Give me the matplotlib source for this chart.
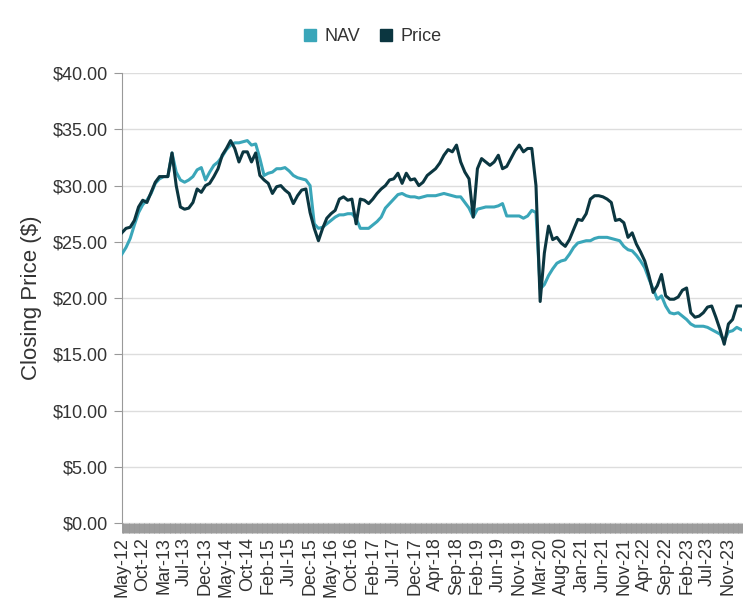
import numpy as np
import matplotlib
matplotlib.use("Agg")
import matplotlib.pyplot as plt
from matplotlib.lines import Line2D
from matplotlib.ticker import FixedLocator, MultipleLocator

plt.rcParams["font.family"] = ["Liberation Sans", "DejaVu Sans"]

tick_labels = ["May-12", "Oct-12", "Mar-13", "Jul-13", "Dec-13", "May-14", "Oct-14",
               "Feb-15", "Jul-15", "Dec-15", "May-16", "Oct-16", "Feb-17", "Jul-17",
               "Dec-17", "Apr-18", "Sep-18", "Feb-19", "Jun-19", "Nov-19", "Mar-20",
               "Aug-20", "Jan-21", "Jun-21", "Nov-21", "Apr-22", "Sep-22", "Feb-23",
               "Jul-23", "Nov-23"]

# roughly 4-weekly closing values
nav = [23.9, 24.5, 25.3, 26.5, 27.6, 28.3, 28.7, 29.3, 30.2, 30.6,
       30.8, 30.8, 32.9, 31.2, 30.5, 30.3, 30.5, 30.8, 31.4, 31.6,
       30.5, 31.2, 31.8, 32.1, 32.6, 33.2, 33.6, 33.8, 33.8, 33.9,
       34.0, 33.6, 33.7, 32.4, 30.9, 31.1, 31.2, 31.5, 31.5, 31.6,
       31.3, 30.9, 30.7, 30.6, 30.5, 30.0, 26.6, 26.2, 26.3, 26.6,
       26.9, 27.2, 27.4, 27.4, 27.5, 27.5, 27.1, 26.2, 26.2, 26.2,
       26.5, 26.8, 27.2, 28.0, 28.4, 28.8, 29.2, 29.3, 29.1, 29.0,
       29.0, 28.9, 29.0, 29.1, 29.1, 29.1, 29.2, 29.3, 29.2, 29.1,
       29.0, 29.0, 28.5, 28.0, 27.2, 27.9, 28.0, 28.1, 28.1, 28.1,
       28.2, 28.4, 27.3, 27.3, 27.3, 27.3, 27.1, 27.3, 27.8, 27.6,
       20.8, 21.2, 22.0, 22.6, 23.1, 23.3, 23.4, 23.9, 24.5, 24.9,
       25.0, 25.1, 25.1, 25.3, 25.4, 25.4, 25.4, 25.3, 25.2, 25.1,
       24.6, 24.3, 24.2, 23.8, 23.3, 22.7, 21.7, 20.8, 19.9, 20.2,
       19.3, 18.7, 18.6, 18.7, 18.4, 18.1, 17.7, 17.5, 17.5, 17.5,
       17.4, 17.2, 17.0, 16.8, 16.2, 17.0, 17.1, 17.4, 17.2]

price = [25.8, 26.2, 26.3, 26.9, 28.1, 28.7, 28.5, 29.4, 30.3, 30.8,
         30.8, 30.8, 32.9, 30.0, 28.1, 27.9, 28.0, 28.5, 29.7, 29.4,
         30.0, 30.2, 30.8, 31.5, 32.7, 33.3, 34.0, 33.3, 32.1, 33.0,
         33.0, 32.1, 32.9, 30.9, 30.5, 30.2, 29.3, 29.9, 30.0, 29.6,
         29.3, 28.4, 29.1, 29.6, 29.7, 27.6, 26.2, 25.1, 26.2, 27.1,
         27.5, 27.8, 28.8, 29.0, 28.7, 28.8, 26.6, 28.8, 28.7, 28.4,
         28.8, 29.3, 29.7, 30.0, 30.5, 30.6, 31.1, 30.2, 31.1, 30.5,
         30.6, 30.0, 30.3, 30.9, 31.2, 31.5, 32.0, 32.7, 33.2, 33.0,
         33.6, 32.1, 31.2, 30.6, 27.2, 31.5, 32.4, 32.1, 31.8, 32.1,
         32.7, 31.5, 31.7, 32.4, 33.1, 33.6, 33.0, 33.3, 33.3, 30.0,
         19.7, 24.0, 26.4, 25.2, 25.4, 24.9, 24.6, 25.2, 26.1, 27.0,
         26.9, 27.5, 28.8, 29.1, 29.1, 29.0, 28.8, 28.5, 26.9, 27.0,
         26.7, 25.4, 25.8, 24.8, 24.1, 23.3, 22.0, 20.5, 21.1, 22.1,
         20.2, 19.9, 19.9, 20.1, 20.7, 20.9, 18.7, 18.3, 18.4, 18.7,
         19.2, 19.3, 18.3, 17.2, 15.9, 17.7, 18.1, 19.3, 19.3]

nav_color = "#3aa6b9"
price_color = "#0b3640"
text_color = "#333333"

fig = plt.figure(figsize=(7.52, 6.09), dpi=100)
ax = fig.add_axes([0.162, 0.141, 0.825, 0.739])

x = np.arange(len(nav))
ax.plot(x, nav, color=nav_color, lw=2.2, zorder=3)
ax.plot(x, price, color=price_color, lw=2.2, zorder=4)

ax.set_xlim(0, 148.3)
ax.set_ylim(0, 40)
ax.set_yticks(np.arange(0, 41, 5))
ax.set_yticklabels([f"${v:.2f}" for v in range(0, 41, 5)], fontsize=13, color=text_color)
ax.grid(axis="y", color="#dddddd", lw=1)
ax.set_axisbelow(True)

ax.xaxis.set_major_locator(FixedLocator(np.arange(0, 150, 5)))
ax.set_xticklabels(tick_labels, rotation=90, fontsize=13, color=text_color)
ax.xaxis.set_minor_locator(MultipleLocator(0.2))
ax.tick_params(axis="x", which="both", length=7, width=0.7, color="#9a9a9a", pad=3)
ax.tick_params(axis="y", length=6, width=0.8, color="#999999", pad=4)

for side in ["top", "right", "bottom"]:
    ax.spines[side].set_visible(False)
ax.spines["left"].set_color("#999999")

ax.set_ylabel("Closing Price ($)", fontsize=16, color=text_color, labelpad=8)

handles = [Line2D([], [], ls="", marker="s", ms=8, color=nav_color),
           Line2D([], [], ls="", marker="s", ms=8, color=price_color)]
fig.legend(handles, ["NAV", "Price"], loc="center", bbox_to_anchor=(0.495, 0.94),
           ncol=2, frameon=False, fontsize=13, handlelength=0.8, handletextpad=0.4,
           columnspacing=1.0, labelcolor=text_color)

fig.savefig("out.png", dpi=100)
